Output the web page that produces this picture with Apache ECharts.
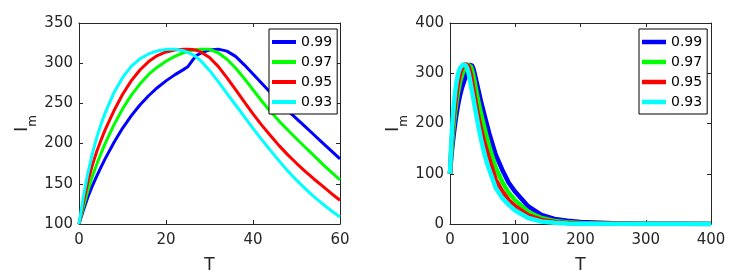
<!DOCTYPE html>
<html><head><meta charset="utf-8">
<script src="https://cdn.jsdelivr.net/npm/echarts@6/dist/echarts.min.js"></script>
<style>html,body{margin:0;padding:0;background:#fff}#c{width:746px;height:276px}</style>
</head><body><div id="c"></div>
<script>
// ---- data ----
const T = [0,1,2,3,4,5,6,8,10,12,14,16,18,20,22,24,25,26,27,28,30,32,34,36,38,40,42,44,46,48,50,52,54,56,58,60,70,80,90,100,120,140,160,180,200,250,300,350,400];
const seriesNames = ['0.99','0.97','0.95','0.93'];
const v099 = [100,117,133,146.5,158.5,170,181,201,219,234.5,248,259.5,269.5,278,285.5,292,295.5,303,309.5,312.5,316.5,317.5,315,308.5,298,286.5,275,263.5,252,241,231,221,211,201,191,181,138,108,82,64,35,18,10,6.5,4,1.5,0.6,0.3,0.1];
const v097 = [100,121,141,158,173,187,200,223,243,260,274,286,295,302.5,308.5,313,314.8,316,317,317.5,317.3,313,305,294,281,267,253,240,228,217,206,195.5,185,174.5,164.5,155,112,84,62,47,24,12,6,3.5,2,0.7,0.3,0.1,0.05];
const v095 = [100,127,152,172,189,203.5,217,240.5,261,278,291.5,302,309.5,314,316.3,317.5,317.5,317,316,314,307,296,282,267,252,237,223,210,197.5,186,175.5,165.5,156,147,138,129.5,88,65,47,35,17,8,4,2,1,0.3,0.1,0.05,0];
const v093 = [100,134,162,186,206,223,238,263,282,296,305.5,311.5,315.3,317.2,317.5,315.5,313.5,311,307.5,303,291,277,262.5,248,233.5,219,205,191.5,178.5,166,154.5,144,134,125,116.5,108.7,72,52,38,27,12,5,2.5,1.2,0.6,0.2,0.1,0.05,0];
const seriesValues = [v099, v097, v095, v093];
const leftX = {min:0, max:60, interval:20};
const leftY = {min:100, max:350, interval:50};
const rightX = {min:0, max:400, interval:100};
const rightY = {min:0, max:400, interval:100};

// ---- styles ----
const colors = ['#0000ff','#00ff00','#ff0000','#00ffff'];
const axisColor = '#262626';
const FONT = 'DejaVu Sans';

function xAx(grid, r, pos, withLabel){
  return {
    type:'value', gridIndex:grid, position:pos, min:r.min, max:r.max, interval:r.interval,
    axisLine:{show:true, onZero:false, lineStyle:{color:axisColor, width:1}},
    axisTick:{show:true, inside:true, length:4, lineStyle:{color:axisColor}},
    splitLine:{show:false},
    axisLabel:{show:withLabel, margin:9, fontSize:15, fontFamily:FONT, color:axisColor},
    name: withLabel ? 'T' : '', nameLocation:'middle', nameGap:33,
    nameTextStyle:{fontSize:17, fontFamily:FONT, color:axisColor}
  };
}
function yAx(grid, r, pos, withLabel){
  return {
    type:'value', gridIndex:grid, position:pos, min:r.min, max:r.max, interval:r.interval,
    axisLine:{show:true, onZero:false, lineStyle:{color:axisColor, width:1}},
    axisTick:{show:true, inside:true, length:4, lineStyle:{color:axisColor}},
    splitLine:{show:false},
    axisLabel:{show:withLabel, margin:6, fontSize:15, fontFamily:FONT, color:axisColor},
    name: withLabel ? '{i|I}{m|m}' : '', nameLocation:'middle', nameGap:40, nameRotate:90,
    nameTextStyle:{color:axisColor, fontFamily:FONT,
      rich:{ i:{fontSize:18, lineHeight:34, fontFamily:FONT, color:axisColor},
             m:{fontSize:12, lineHeight:18, verticalAlign:'bottom', fontFamily:FONT, color:axisColor} } }
  };
}
function legend(left, h){
  return {
    left:left, top:29, orient:'vertical', icon:'rect', itemWidth:24, itemHeight:h, itemGap:6,
    padding:[6,5,5,3], borderColor:'#000', borderWidth:1, backgroundColor:'#fff',
    textStyle:{fontSize:14, fontFamily:FONT, color:'#000'},
    data:seriesNames, selectedMode:false
  };
}

const series = [];
seriesNames.forEach((nm, k) => {
  const pts = T.map((t, j) => [t, seriesValues[k][j]]);
  series.push({ name:nm, type:'line', xAxisIndex:0, yAxisIndex:0, symbol:'none', showSymbol:false,
    smooth:false, data: pts.filter(p => p[0] <= 60),
    lineStyle:{color:colors[k], width:3, join:'round'}, itemStyle:{color:colors[k]} });
});
seriesNames.forEach((nm, k) => {
  const pts = T.map((t, j) => [t, seriesValues[k][j]]);
  series.push({ name:nm, type:'line', xAxisIndex:2, yAxisIndex:2, symbol:'none', showSymbol:false,
    smooth:false, data: pts,
    lineStyle:{color:colors[k], width:4.5, join:'round'}, itemStyle:{color:colors[k]} });
});

const chart = echarts.init(document.getElementById('c'), null, {renderer:'canvas'});
chart.setOption({
  animation:false,
  backgroundColor:'#fff',
  grid:[
    {left:79, top:23, width:261, height:201, containLabel:false, outerBoundsMode:'none'},
    {left:450, top:23, width:261, height:201, containLabel:false, outerBoundsMode:'none'}
  ],
  xAxis:[ xAx(0,leftX,'bottom',true), xAx(0,leftX,'top',false), xAx(1,rightX,'bottom',true), xAx(1,rightX,'top',false) ],
  yAxis:[ yAx(0,leftY,'left',true), yAx(0,leftY,'right',false), yAx(1,rightY,'left',true), yAx(1,rightY,'right',false) ],
  legend:[ legend(269, 4), legend(639, 4.5) ],
  series: series
});
</script></body></html>
